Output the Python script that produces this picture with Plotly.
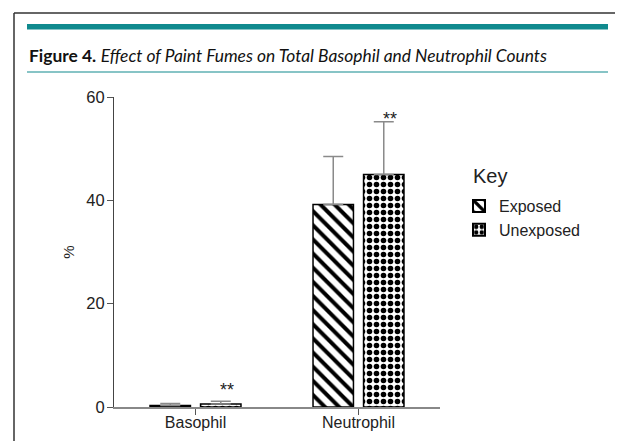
import plotly.graph_objects as go

categories = ["Basophil", "Neutrophil"]
exposed = [0.3, 39.2]
exposed_err = [0.4, 9.3]
unexposed = [0.6, 45.0]
unexposed_err = [0.5, 10.2]
sig_labels = ["**", "**"]
sig_y = [3.3, 55.7]
y_ticks = [0, 20, 40, 60]
legend_title = "Key"

# the page body adds an 8px margin, so the figure is drawn 8px smaller
OFF = 8
W, H = 623 - OFF, 441 - OFF
# plot area in reference-page pixels
X0, X1, Y0, Y1 = 114, 440, 97, 407
L, R, T, B = X0 - OFF, W - (X1 - OFF), Y0 - OFF, H - (Y1 - OFF)
PW, PH = X1 - X0, Y1 - Y0


def px(x):
    return (x - X0) / PW


def py(y):
    return (Y1 - y) / PH


FONT = "Liberation Sans, Arial, sans-serif"

fig = go.Figure()
fig.add_bar(
    x=categories, y=exposed, name="Exposed",
    marker=dict(color="white", line=dict(color="black", width=1.5),
                pattern=dict(shape="\\", fgcolor="black", fgopacity=1, bgcolor="white",
                             size=10, solidity=0.4)),
    error_y=dict(type="data", array=exposed_err, arrayminus=[0] * len(exposed_err), symmetric=False,
                 color="#8a8a8a", thickness=1.5, width=10),
)
fig.add_bar(
    x=categories, y=unexposed, name="Unexposed",
    marker=dict(color="white", line=dict(color="black", width=1.5),
                pattern=dict(shape=".", fgcolor="black", fgopacity=1, bgcolor="white",
                             size=7, solidity=0.5)),
    error_y=dict(type="data", array=unexposed_err, arrayminus=[0] * len(unexposed_err), symmetric=False,
                 color="#8a8a8a", thickness=1.5, width=10),
)

annotations = []
for cat, lab, yv in zip(categories, sig_labels, sig_y):
    annotations.append(dict(x=cat, y=yv, xref="x", yref="y", text=lab, showarrow=False,
                            xshift=31, yanchor="middle", font=dict(family=FONT, size=18, color="#222")))

annotations.append(dict(
    x=px(27), y=py(56), xref="paper", yref="paper", xanchor="left", yanchor="middle",
    text="<b>Figure 4.</b> <i>Effect of Paint Fumes on Total Basophil and Neutrophil Counts</i>",
    showarrow=False, font=dict(family="Lato, Open Sans, sans-serif", size=17.4, color="#111")))

annotations.append(dict(
    x=px(471), y=py(176), xref="paper", yref="paper", xanchor="left", yanchor="middle",
    text=legend_title, showarrow=False, font=dict(family=FONT, size=20, color="#222")))

shapes = [
    # outer frame (top and left)
    dict(type="line", xref="paper", yref="paper", x0=px(14), x1=px(640), y0=py(13), y1=py(13),
         line=dict(color="#333", width=1.5)),
    dict(type="line", xref="paper", yref="paper", x0=px(14), x1=px(14), y0=py(13), y1=py(460),
         line=dict(color="#333", width=1.5)),
    # teal rules
    dict(type="rect", xref="paper", yref="paper", x0=px(27), x1=px(608), y0=py(24), y1=py(29.5),
         fillcolor="#108a8e", line=dict(width=0)),
    dict(type="line", xref="paper", yref="paper", x0=px(27), x1=px(608), y0=py(72), y1=py(72),
         line=dict(color="#108a8e", width=1.2)),
]

fig.update_layout(
    width=W, height=H,
    margin=dict(l=L, r=R, t=T, b=B, autoexpand=False),
    paper_bgcolor="white", plot_bgcolor="white",
    barmode="group", bargap=0.38, bargroupgap=0.2,
    font=dict(family=FONT, size=14, color="#222"),
    showlegend=True,
    legend=dict(x=px(459), y=py(189), xanchor="left", yanchor="top",
                font=dict(family=FONT, size=16, color="#222"),
                bgcolor="rgba(0,0,0,0)", itemsizing="constant", tracegroupgap=2),
    annotations=annotations,
    shapes=shapes,
)
fig.update_xaxes(range=[-0.5, 1.5], showline=True, linecolor="#888", linewidth=1.5,
                 ticks="outside", ticklen=6, tickcolor="#555", showgrid=False, zeroline=False,
                 ticklabelstandoff=-6,
                 tickfont=dict(family=FONT, size=16, color="#222"))
fig.update_yaxes(range=[0, 60], tickvals=y_ticks, showline=True, linecolor="#444", linewidth=1,
                 ticks="outside", ticklen=6, tickcolor="#555", showgrid=False, zeroline=False,
                 ticklabelstandoff=-1,
                 title=dict(text="%", font=dict(family=FONT, size=15, color="#222"), standoff=8),
                 tickfont=dict(family=FONT, size=16.5, color="#222"))

fig.write_html("out.html")
